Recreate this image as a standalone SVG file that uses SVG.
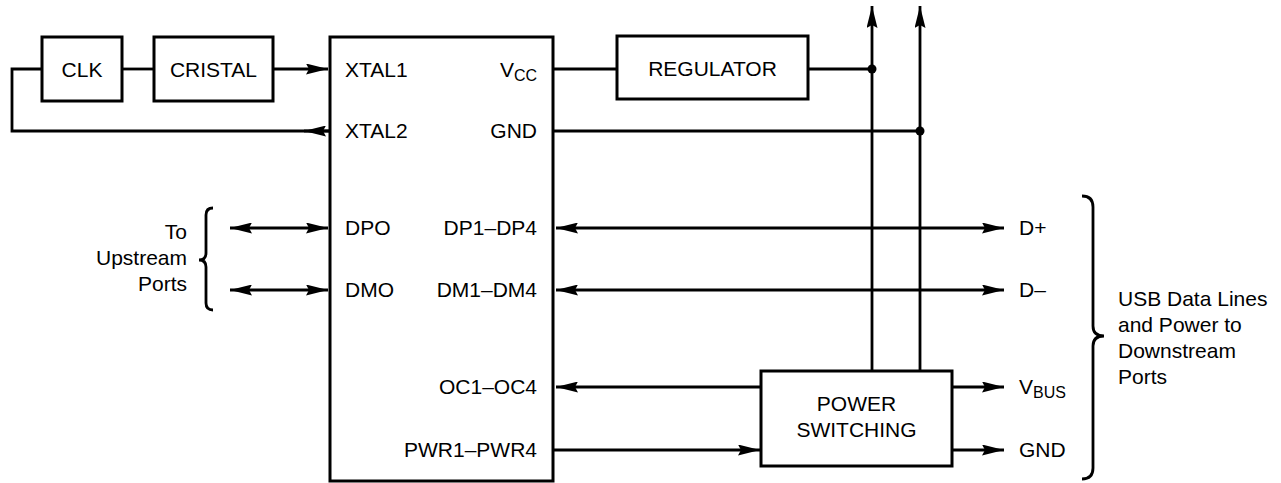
<svg xmlns="http://www.w3.org/2000/svg" width="1281" height="483" viewBox="0 0 1281 483">
<style>
.box{fill:#fff;stroke:#000;stroke-width:3}
.ln{fill:none;stroke:#000;stroke-width:2.8}
.br{fill:none;stroke:#000;stroke-width:2.8}
text{font-family:"Liberation Sans",Arial,sans-serif;font-size:21px;fill:#000}
.m{text-anchor:middle}
.e{text-anchor:end}
.sub{font-size:16px}
</style>
<defs>
<marker id="ah" viewBox="0 0 22 11" refX="22" refY="5.5" markerWidth="22" markerHeight="11" markerUnits="userSpaceOnUse" orient="auto-start-reverse">
<path d="M0,0 L22,5.5 L0,11 L3,5.5 Z" fill="#000"/>
</marker>
</defs>
<g id="connectors">
<path class="ln" d="M330,131 H12 V69 H42"/>
<line class="ln" x1="330" y1="131" x2="304" y2="131" marker-end="url(#ah)"/>
<line class="ln" x1="122" y1="69" x2="154" y2="69"/>
<line class="ln" x1="273" y1="69" x2="328" y2="69" marker-end="url(#ah)"/>
<line class="ln" x1="553" y1="69" x2="617" y2="69"/>
<line class="ln" x1="808" y1="69" x2="872" y2="69"/>
<line class="ln" x1="553" y1="131" x2="920" y2="131"/>
<circle cx="872" cy="69" r="4.5" fill="#000"/>
<circle cx="920" cy="131" r="4.5" fill="#000"/>
<line class="ln" x1="872" y1="371" x2="872" y2="6" marker-end="url(#ah)"/>
<line class="ln" x1="920" y1="371" x2="920" y2="6" marker-end="url(#ah)"/>
<line class="ln" x1="230" y1="228" x2="328" y2="228" marker-start="url(#ah)" marker-end="url(#ah)"/>
<line class="ln" x1="230" y1="290" x2="328" y2="290" marker-start="url(#ah)" marker-end="url(#ah)"/>
<line class="ln" x1="556" y1="228" x2="1004" y2="228" marker-start="url(#ah)" marker-end="url(#ah)"/>
<line class="ln" x1="556" y1="290" x2="1004" y2="290" marker-start="url(#ah)" marker-end="url(#ah)"/>
<line class="ln" x1="761" y1="387" x2="556" y2="387" marker-end="url(#ah)"/>
<line class="ln" x1="553" y1="450" x2="760" y2="450" marker-end="url(#ah)"/>
<line class="ln" x1="952" y1="387" x2="1004" y2="387" marker-end="url(#ah)"/>
<line class="ln" x1="952" y1="450" x2="1004" y2="450" marker-end="url(#ah)"/>
</g>
<g id="clk">
<rect class="box" x="42" y="37" width="80" height="64"/>
<text class="m" x="82" y="77">CLK</text>
</g>
<g id="cristal">
<rect class="box" x="154" y="37" width="119" height="64"/>
<text class="m" x="213.5" y="77">CRISTAL</text>
</g>
<g id="hub">
<rect class="box" x="330" y="37" width="223" height="444"/>
<text x="345" y="77">XTAL1</text>
<text x="345" y="138">XTAL2</text>
<text x="345" y="235">DPO</text>
<text x="345" y="297">DMO</text>
<text class="e" x="537" y="77">V<tspan class="sub" dy="4">CC</tspan></text>
<text class="e" x="537" y="138">GND</text>
<text class="e" x="537" y="235">DP1–DP4</text>
<text class="e" x="537" y="297">DM1–DM4</text>
<text class="e" x="537" y="394">OC1–OC4</text>
<text class="e" x="537" y="457">PWR1–PWR4</text>
</g>
<g id="regulator">
<rect class="box" x="617" y="36" width="191" height="63"/>
<text class="m" x="712.5" y="76">REGULATOR</text>
</g>
<g id="power-switching">
<rect class="box" x="761" y="371" width="191" height="95"/>
<text class="m" x="856.5" y="411">POWER</text>
<text class="m" x="856.5" y="437">SWITCHING</text>
</g>
<g id="upstream-label">
<path class="br" d="M213,208 Q206,208 206,215 L206,253 Q206,260 199,260 Q206,260 206,267 L206,303 Q206,310 213,310"/>
<text class="e" x="187" y="239">To</text>
<text class="e" x="187" y="265">Upstream</text>
<text class="e" x="187" y="291">Ports</text>
</g>
<g id="downstream-outputs">
<text x="1019" y="235">D+</text>
<text x="1019" y="297">D–</text>
<text x="1019" y="394">V<tspan class="sub" dy="4">BUS</tspan></text>
<text x="1019" y="457">GND</text>
</g>
<g id="downstream-label">
<path class="br" d="M1082,196 Q1093,196 1093,207 L1093,326 Q1093,336 1104,336 Q1093,336 1093,346 L1093,468 Q1093,479 1082,479"/>
<text x="1118" y="306">USB Data Lines</text>
<text x="1118" y="332">and Power to</text>
<text x="1118" y="358">Downstream</text>
<text x="1118" y="384">Ports</text>
</g>
</svg>
